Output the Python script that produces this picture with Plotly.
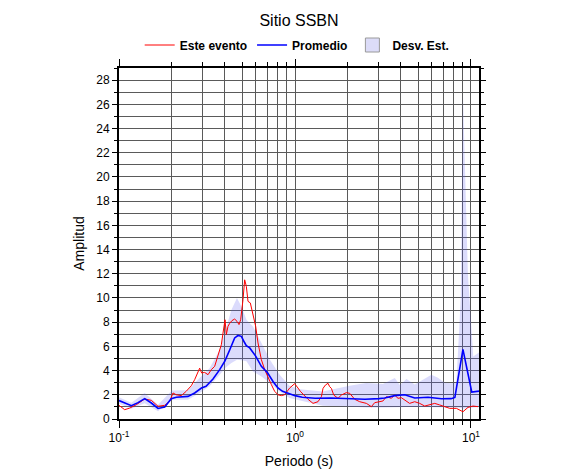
import plotly.graph_objects as go

# ---- Data ----
periodo_evento = [0.100, 0.1077, 0.115, 0.1254, 0.1399, 0.1527, 0.1666, 0.1818, 0.1941, 0.2027,
                  0.2117, 0.2261, 0.2413, 0.2576, 0.2691, 0.2775, 0.2873, 0.2949, 0.3067, 0.3204,
                  0.3347, 0.3496, 0.3652, 0.3815, 0.3899, 0.4003, 0.4073, 0.4162, 0.4254, 0.4385,
                  0.4542, 0.4683, 0.4807, 0.4913, 0.5065, 0.5176, 0.5290, 0.5408, 0.5574, 0.5772,
                  0.5978, 0.6165, 0.6440, 0.6727, 0.7027, 0.7340, 0.7662, 0.8006, 0.8363, 0.8736,
                  0.9326, 0.9957, 1.04, 1.072, 1.186, 1.266, 1.351, 1.413, 1.443, 1.488,
                  1.54, 1.574, 1.61, 1.66, 1.755, 1.835, 1.959, 2.046, 2.184, 2.331,
                  2.545, 2.716, 2.837, 3.0, 3.16, 3.31, 3.53, 3.68, 3.85, 4.02,
                  4.2, 4.48, 4.79, 5.11, 5.46, 5.83, 6.22, 6.64, 7.09, 7.57,
                  8.26, 9.0, 9.62, 10.26, 10.96]
amp_evento = [1.13, 0.77, 0.90, 1.18, 1.65, 1.54, 1.05, 1.13, 1.46, 2.15,
              2.00, 1.93, 2.30, 2.75, 3.25, 3.66, 4.20, 3.80, 3.85, 3.66,
              4.08, 4.35, 5.18, 6.14, 7.10, 8.20, 6.97, 7.66, 7.90, 8.13,
              8.26, 8.07, 7.80, 8.20, 9.86, 11.50, 10.96, 9.72, 9.59, 8.60,
              7.66, 6.28, 4.90, 4.08, 3.39, 2.84, 2.29, 2.00, 1.93, 2.00,
              2.56, 2.92, 2.56, 2.29, 1.63, 1.29, 1.43, 1.85, 2.53, 2.80,
              2.95, 2.67, 2.53, 1.98, 1.71, 1.98, 2.18, 2.12, 1.63, 1.43,
              1.29, 1.02, 1.35, 1.43, 1.49, 1.85, 1.71, 1.98, 1.71, 1.76,
              1.57, 1.29, 1.43, 1.29, 1.07, 1.16, 1.29, 1.16, 1.02, 0.88,
              0.88, 0.60, 0.96, 1.07, 1.02]

periodo_prom = [0.100, 0.1078, 0.1176, 0.1282, 0.1399, 0.1527, 0.1666, 0.1819, 0.198, 0.2117,
                0.2466, 0.2692, 0.294, 0.3123, 0.3421, 0.3733, 0.400, 0.4254, 0.4542, 0.4742,
                0.4957, 0.5176, 0.529, 0.5531, 0.5978, 0.644, 0.700, 0.750, 0.800, 0.850,
                0.900, 1.000, 1.1, 1.3, 1.6, 2.0, 2.5, 3.0, 3.23, 3.69,
                4.2, 4.79, 5.7, 6.8, 7.7, 8.1, 9.0, 10.1, 11.1]
amp_prom = [1.52, 1.32, 1.10, 1.35, 1.68, 1.32, 0.87, 0.99, 1.68, 1.80,
            1.87, 2.15, 2.56, 2.70, 3.30, 4.08, 4.80, 5.70, 6.70, 6.90,
            6.83, 6.30, 6.06, 5.87, 5.20, 4.35, 3.80, 3.10, 2.56, 2.29,
            2.15, 1.93, 1.80, 1.72, 1.74, 1.71, 1.63, 1.68, 1.73, 1.93,
            2.00, 1.73, 1.80, 1.67, 1.68, 1.78, 5.75, 2.23, 2.30]

periodo_desv = [0.100, 0.1175, 0.1399, 0.1666, 0.200, 0.2466, 0.287, 0.327, 0.373, 0.407,
                0.435, 0.468, 0.496, 0.530, 0.577, 0.645, 0.720, 0.818, 0.930, 1.06,
                1.44, 2.04, 2.54, 3.16, 3.69, 3.94, 4.3, 4.79, 5.34, 5.96,
                6.49, 7.09, 7.74, 8.26, 8.75, 9.0, 9.6, 10.3, 11.1]
desv_sup = [1.80, 1.35, 2.15, 1.18, 2.35, 2.37, 3.39, 4.20, 5.70, 7.65,
            9.00, 10.0, 9.30, 8.20, 7.65, 6.28, 4.90, 3.66, 2.75, 2.45,
            2.28, 2.75, 2.97, 2.90, 3.39, 2.80, 3.30, 2.85, 3.25, 3.66,
            3.40, 3.00, 2.95, 3.00, 10.0, 26.8, 12.0, 5.17, 5.50]
desv_inf = [1.27, 0.85, 1.30, 0.63, 1.60, 1.60, 2.15, 2.70, 3.66, 4.30,
            4.63, 4.90, 4.85, 4.77, 3.93, 3.52, 2.97, 2.28, 1.74, 1.55,
            1.10, 1.04, 0.95, 0.95, 1.00, 1.00, 1.00, 1.00, 1.00, 1.00,
            1.00, 0.95, 0.95, 0.95, 0.90, 0.85, 0.90, 0.95, 1.00]

x_tickvals = [0.1, 1, 10]
x_ticktext = ["10<sup>-1</sup>", "10<sup>0</sup>", "10<sup>1</sup>"]
x_minor = [0.2, 0.3, 0.4, 0.5, 0.6, 0.7, 0.8, 0.9, 2, 3, 4, 5, 6, 7, 8, 9]

FONT = "Liberation Sans, Arial, Helvetica, sans-serif"
band_fill = "rgba(90,90,240,0.22)"

fig = go.Figure()
fig.add_trace(go.Scatter(x=periodo_desv, y=desv_inf, mode="lines", line=dict(width=0),
                         showlegend=False, hoverinfo="skip"))
fig.add_trace(go.Scatter(x=periodo_desv, y=desv_sup, mode="lines", line=dict(width=0),
                         fill="tonexty", fillcolor=band_fill, showlegend=False, hoverinfo="skip"))
fig.add_trace(go.Scatter(x=periodo_evento, y=amp_evento, mode="lines", name="Este evento",
                         line=dict(color="#ff0000", width=1), legendrank=1))
fig.add_trace(go.Scatter(x=periodo_prom, y=amp_prom, mode="lines", name="Promedio",
                         line=dict(color="#0000ff", width=1.6), legendrank=2))
fig.add_trace(go.Scatter(x=[None], y=[None], mode="markers", name="Desv. Est.",
                         marker=dict(symbol="square", size=14, color="#dcdcf8",
                                     line=dict(color="#9a9a9a", width=1)), legendrank=3))

W, H = 578, 467
fig.update_layout(
    width=W, height=H,
    margin=dict(l=111, r=107, t=60, b=56, autoexpand=False),
    paper_bgcolor="white", plot_bgcolor="white",
    font=dict(family=FONT, color="black", size=12),
    title=dict(text="Sitio SSBN", x=0.5, xref="paper", xanchor="center",
               y=1 - 12 / H, yref="container", yanchor="middle",
               font=dict(size=16, family=FONT, color="black")),
    legend=dict(orientation="h", x=0.495, xanchor="center", xref="paper",
                y=1.0655, yanchor="middle", yref="paper", traceorder="normal",
                font=dict(size=12, family=FONT, weight="bold"),
                bgcolor="rgba(0,0,0,0)", itemwidth=30),
    xaxis=dict(type="log", range=[-1, 1.0455], automargin=False,
               tickvals=x_tickvals, ticktext=x_ticktext,
               ticks="outside", ticklen=7, tickcolor="black", tickwidth=1,
               showgrid=True, gridcolor="#5a5a5a", gridwidth=1,
               showline=True, linecolor="black", linewidth=2, mirror="ticks",
               zeroline=False, tickfont=dict(size=12),
               minor=dict(tickvals=x_minor, ticks="outside", ticklen=4,
                          tickcolor="black", showgrid=True, gridcolor="#5a5a5a", gridwidth=1),
               title=dict(text="Periodo (s)", font=dict(size=14), standoff=12)),
    yaxis=dict(range=[0, 29], tick0=0, dtick=2, automargin=False,
               ticks="outside", ticklen=5, tickcolor="black",
               showgrid=True, gridcolor="#5a5a5a", gridwidth=1,
               showline=True, linecolor="black", linewidth=2, mirror="ticks",
               zeroline=False, tickfont=dict(size=12),
               minor=dict(dtick=1, ticks="outside", ticklen=3, tickcolor="black",
                          showgrid=True, gridcolor="#5a5a5a", gridwidth=1),
               title=dict(text="Amplitud", font=dict(size=14), standoff=8)),
)

fig.write_html("out.html")
